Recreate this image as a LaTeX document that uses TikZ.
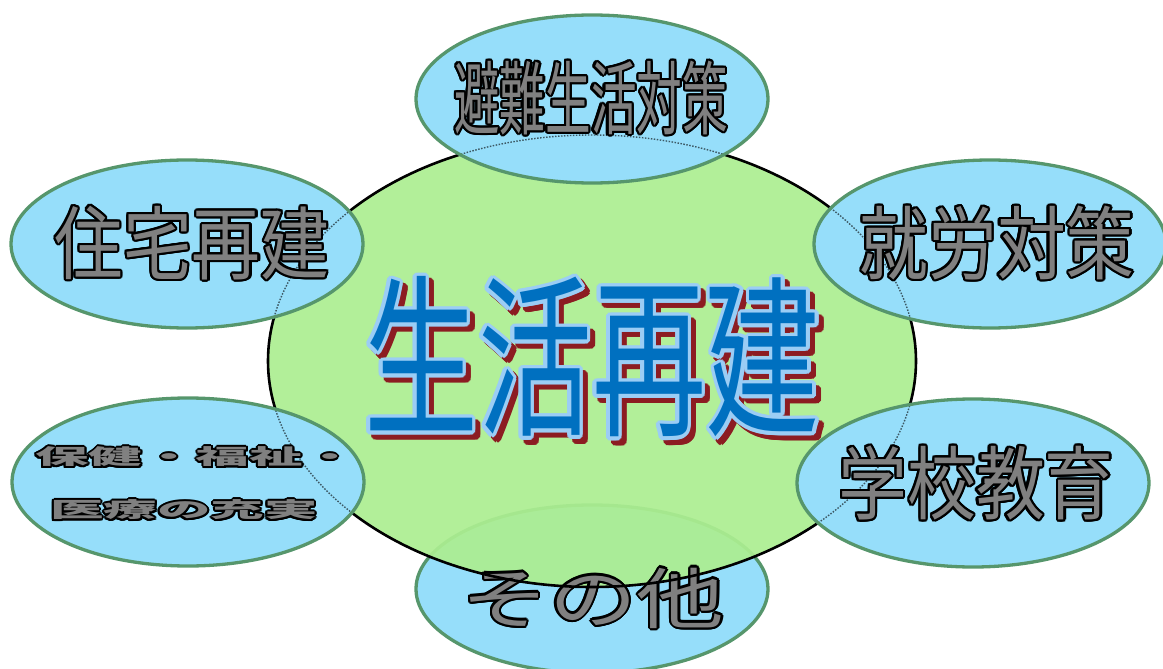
\documentclass[tikz,border=0pt]{standalone}
\usepackage{fontspec}
\usepackage{graphicx}
\usetikzlibrary{shapes.geometric}
\newfontfamily\jp{Noto Sans CJK JP}
\definecolor{satfill}{RGB}{150,222,250}
\definecolor{satline}{RGB}{86,150,108}
\definecolor{grnfill}{RGB}{172,238,145}
\definecolor{txtgray}{RGB}{128,128,128}
\definecolor{cblue}{RGB}{0,112,192}
\definecolor{cltblue}{RGB}{155,205,245}
\definecolor{cred}{RGB}{140,28,34}
% outlined text: name, position, content, fill colour, outline colour, radius (pt)
\newcommand\otext[6]{%
  \foreach \ang [count=\k] in {0,22.5,...,337.5}{%
    \node[txt, text=#5, xshift={#6*cos(\ang)*1pt}, yshift={#6*sin(\ang)*1pt}] (#1o\k) at (#2) {#3};
  }%
  \node[txt, text=#4] (#1) at (#2) {#3};%
}
\begin{document}
\begin{tikzpicture}[x=1pt,y=-1pt,
  txt/.style={inner sep=0pt, outer sep=0pt},
  satbox/.style={ellipse, minimum width=352pt, minimum height=168pt, inner sep=0pt},
  satfillst/.style={satbox, fill=satfill},
  satdraw/.style={satbox, draw=satline, line width=3.3pt},
  mainbox/.style={ellipse, minimum width=648pt, minimum height=452pt, inner sep=0pt},
]
\useasboundingbox (0,0) rectangle (1163,669);
% bottom satellite (behind main)
\node[satbox, fill=satfill] (othf) at (592,589) {};
\node[satdraw] (oth) at (592,589) {};
% main ellipse fill
\node[mainbox, fill=grnfill, fill opacity=0.93] (mainf) at (592,361) {};
\otext{othtxt}{593,598}{\scalebox{1.33}[1]{\jp\fontsize{66}{66}\selectfont その他}}{txtgray}{black}{2.2}
\node[mainbox, draw=black, line width=2.6pt] (main) at (592,361) {};
% other satellites (opaque fills)
\node[satfillst] (avdf) at (592,99) {};
\node[satfillst] (houf) at (187,244) {};
\node[satfillst] (empf) at (990,244) {};
\node[satfillst] (hlthf) at (188,482) {};
\node[satfillst] (schf) at (973,483) {};
% main outline showing faintly through the satellites
\node[mainbox, draw=black, line width=1.4pt, draw opacity=0.6, dash pattern=on 1.5pt off 1.5pt] (mainthin) at (592,361) {};
% satellite outlines
\node[satdraw] (avd) at (592,99) {};
\node[satdraw] (hou) at (187,244) {};
\node[satdraw] (emp) at (990,244) {};
\node[satdraw] (hlth) at (188,482) {};
\node[satdraw] (sch) at (973,483) {};
% satellite texts
\otext{avdtxt}{591,98}{\scalebox{0.57}[1]{\jp\fontsize{80}{80}\selectfont 避難生活対策}}{txtgray}{black}{2.2}
\otext{houtxt}{192,243}{\scalebox{0.86}[1]{\jp\fontsize{80}{80}\selectfont 住宅再建}}{txtgray}{black}{2.2}
\otext{emptxt}{997,243}{\scalebox{0.86}[1]{\jp\fontsize{80}{80}\selectfont 就労対策}}{txtgray}{black}{2.2}
\otext{schtxt}{976,483}{\scalebox{0.86}[1]{\jp\fontsize{80}{80}\selectfont 学校教育}}{txtgray}{black}{2.2}
\otext{hlthA}{196,457}{\scalebox{2.55}[1]{\jp\bfseries\fontsize{21}{21}\selectfont 保健・福祉・}}{txtgray}{black}{2}
\otext{hlthB}{184,510}{\scalebox{2.55}[1]{\jp\bfseries\fontsize{21}{21}\selectfont 医療の充実}}{txtgray}{black}{2}
% centre title: shadow, outline, fill
\otext{titsh}{597,362}{\scalebox{0.655}[1]{\jp\fontsize{174}{174}\selectfont 生活再建}}{cred}{cred}{3.4}
\otext{tit}{592,357}{\scalebox{0.655}[1]{\jp\fontsize{174}{174}\selectfont 生活再建}}{cblue}{cltblue}{3.4}
\end{tikzpicture}
\end{document}
